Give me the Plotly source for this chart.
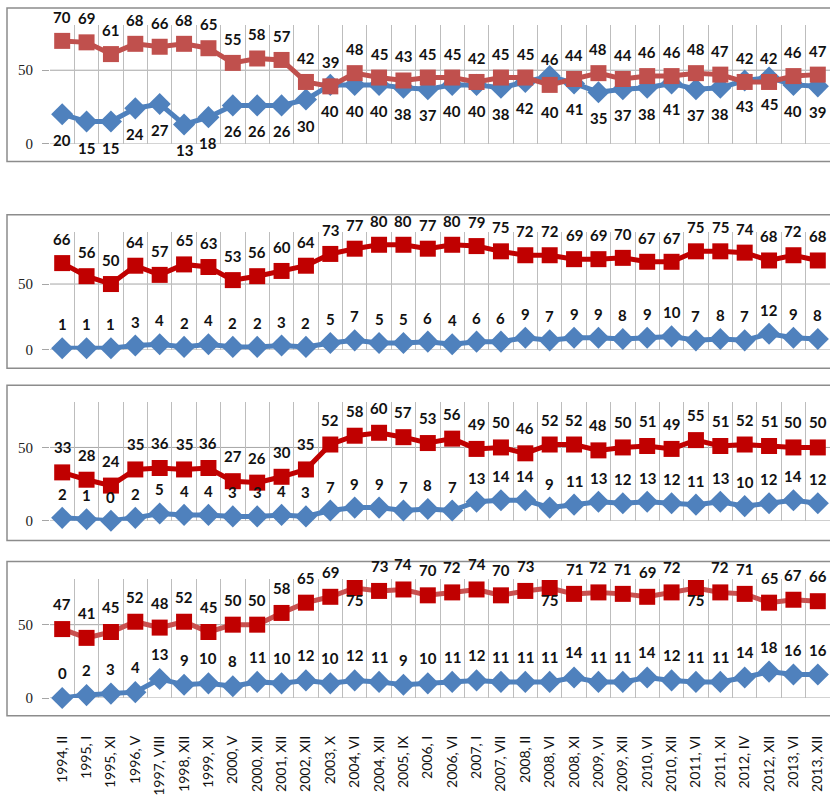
"""
Four stacked survey trend panels (red squares vs blue diamonds)
"""

import plotly.graph_objects as go

categories = ["1994, II", "1995, I", "1995, XI", "1996, V", "1997, VIII", "1998, XII",
              "1999, XI", "2000, V", "2000, XII", "2001, XII", "2002, XII", "2003, X",
              "2004, VI", "2004, XII", "2005, IX", "2006, I", "2006, VI", "2007, I",
              "2007, VII", "2008, II", "2008, VI", "2008, XI", "2009, VI", "2009, XII",
              "2010, VI", "2010, XII", "2011, VI", "2011, XI", "2012, IV", "2012, XII",
              "2013, VI", "2013, XII"]

p1_red = [70, 69, 61, 68, 66, 68, 65, 55, 58, 57, 42, 39, 48, 45, 43, 45,
          45, 42, 45, 45, 40, 44, 48, 44, 46, 46, 48, 47, 42, 42, 46, 47]
p1_blue = [20, 15, 15, 24, 27, 13, 18, 26, 26, 26, 30, 40, 40, 40, 38, 37,
           40, 40, 38, 42, 46, 41, 35, 37, 38, 41, 37, 38, 43, 45, 40, 39]

p2_red = [66, 56, 50, 64, 57, 65, 63, 53, 56, 60, 64, 73, 77, 80, 80, 77,
          80, 79, 75, 72, 72, 69, 69, 70, 67, 67, 75, 75, 74, 68, 72, 68]
p2_blue = [1, 1, 1, 3, 4, 2, 4, 2, 2, 3, 2, 5, 7, 5, 5, 6,
           4, 6, 6, 9, 7, 9, 9, 8, 9, 10, 7, 8, 7, 12, 9, 8]

p3_red = [33, 28, 24, 35, 36, 35, 36, 27, 26, 30, 35, 52, 58, 60, 57, 53,
          56, 49, 50, 46, 52, 52, 48, 50, 51, 49, 55, 51, 52, 51, 50, 50]
p3_blue = [2, 1, 0, 2, 5, 4, 4, 3, 3, 4, 3, 7, 9, 9, 7, 8,
           7, 13, 14, 14, 9, 11, 13, 12, 13, 12, 11, 13, 10, 12, 14, 12]

p4_red = [47, 41, 45, 52, 48, 52, 45, 50, 50, 58, 65, 69, 75, 73, 74, 70,
          72, 74, 70, 73, 75, 71, 72, 71, 69, 72, 75, 72, 71, 65, 67, 66]
p4_blue = [0, 2, 3, 4, 13, 9, 10, 8, 11, 10, 12, 10, 12, 11, 9, 10,
           11, 12, 11, 11, 11, 14, 11, 11, 14, 12, 11, 11, 14, 18, 16, 16]

RED_LIGHT = '#C0504D'
RED_DARK = '#C00000'
BLUE = '#4F81BD'
GRID = '#BDBDBD'
W, H = 830, 807

# pixel geometry of each panel; label shifts in px (positive = above the marker)
panels = [
    dict(red=p1_red, blue=p1_blue, marker=RED_LIGHT, line=RED_LIGHT,
         top=25, bottom=145, box=(8, 163), ymax=81,
         red_shift=24, blue_shift=-26, red_special={20: -27}, blue_special={20: 17}),
    dict(red=p2_red, blue=p2_blue, marker=RED_DARK, line=RED_DARK,
         top=234, bottom=353, box=(217, 372), ymax=90,
         red_shift=24, blue_shift=24, red_special={}, blue_special={}),
    dict(red=p3_red, blue=p3_blue, marker=RED_DARK, line=RED_DARK,
         top=406, bottom=526, box=(389, 546), ymax=81,
         red_shift=25, blue_shift=24, red_special={}, blue_special={}),
    dict(red=p4_red, blue=p4_blue, marker=RED_DARK, line='#C8504F',
         top=585, bottom=705, box=(567, 723), ymax=81,
         red_shift=25, blue_shift=25, red_special={12: -12, 20: -12, 26: -12}, blue_special={}),
]

fig = go.Figure()
annotations = []
shapes = []
layout_axes = {}

label_font = dict(family='Lato', size=15, color='#111111', weight='bold')

for n, p in enumerate(panels, start=1):
    xa = 'x' if n == 1 else f'x{n}'
    ya = 'y' if n == 1 else f'y{n}'

    fig.add_trace(go.Scatter(
        x=categories, y=p['blue'], xaxis=xa, yaxis=ya,
        mode='lines+markers', cliponaxis=False, showlegend=False,
        line=dict(color=BLUE, width=5),
        marker=dict(symbol='diamond', size=17, color=BLUE)
    ))
    fig.add_trace(go.Scatter(
        x=categories, y=p['red'], xaxis=xa, yaxis=ya,
        mode='lines+markers', cliponaxis=False, showlegend=False,
        line=dict(color=p['line'], width=5),
        marker=dict(symbol='square', size=16, color=p['marker'])
    ))

    for i, cat in enumerate(categories):
        annotations.append(dict(
            x=cat, y=p['red'][i], xref=xa, yref=ya, text=str(p['red'][i]),
            showarrow=False, font=label_font,
            yshift=p['red_special'].get(i, p['red_shift'])
        ))
        annotations.append(dict(
            x=cat, y=p['blue'][i], xref=xa, yref=ya, text=str(p['blue'][i]),
            showarrow=False, font=label_font,
            yshift=p['blue_special'].get(i, p['blue_shift'])
        ))

    # panel frame
    shapes.append(dict(
        type='rect', xref='paper', yref='paper',
        x0=7 / W, x1=1.05, y0=1 - p['box'][1] / H, y1=1 - p['box'][0] / H,
        line=dict(color='#8C8C8C', width=1.5), layer='below'
    ))
    # horizontal grid line at 50 and baseline at 0
    for v in (0, 50):
        shapes.append(dict(
            type='line', xref=f'{xa} domain', yref=ya,
            x0=0, x1=1, y0=v, y1=v,
            line=dict(color='#A6A6A6', width=1), layer='below'
        ))

    key = '' if n == 1 else str(n)
    layout_axes['xaxis' + key] = dict(
        domain=[50 / W, 1.0], anchor=ya, type='category',
        range=[-0.5, 31.5], tickson='boundaries',
        showgrid=True, gridcolor=GRID, gridwidth=1,
        showline=False, zeroline=False, ticks='',
        showticklabels=(n == 4), tickangle=-90,
        tickfont=dict(family='Lato', size=14, color='#111111'),
        ticklabelstandoff=34,
    )
    layout_axes['yaxis' + key] = dict(
        domain=[1 - p['bottom'] / H, 1 - p['top'] / H], anchor=xa,
        range=[0, p['ymax']], tickvals=[0, 50], showgrid=False,
        zeroline=False, showline=False,
        ticks='outside', ticklen=7, tickcolor='#A6A6A6',
        tickfont=dict(family='Liberation Serif', size=15, color='#222222'),
        ticklabelstandoff=6,
    )

fig.update_layout(
    width=W, height=H,
    margin=dict(l=0, r=0, t=0, b=0),
    paper_bgcolor='white', plot_bgcolor='white',
    annotations=annotations, shapes=shapes,
    **layout_axes
)

# drop the default page margin so the figure sits at the window's corner
fig.write_html("out.html", config=dict(displayModeBar=False),
               post_script="document.body.style.margin = '0';")
